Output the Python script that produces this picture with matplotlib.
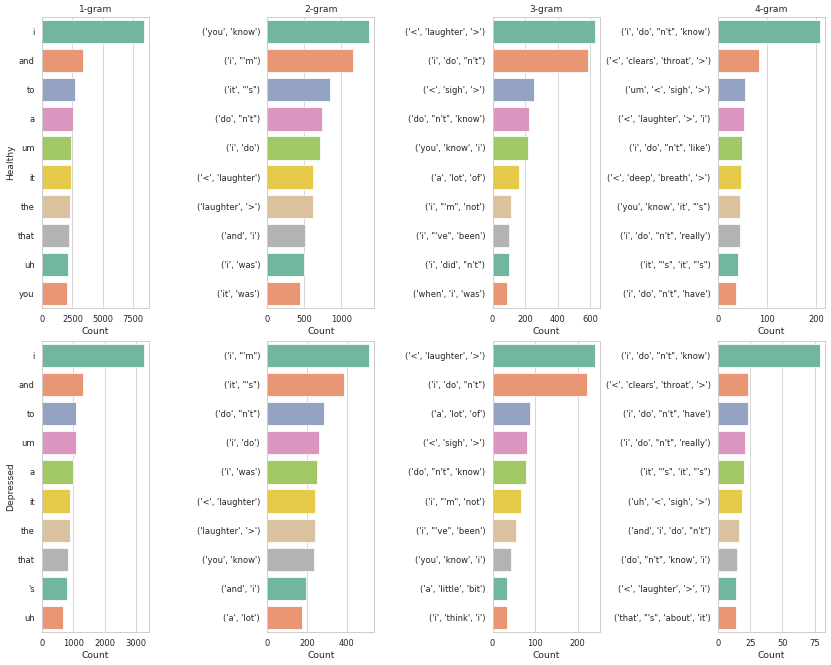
import numpy as np
import matplotlib
matplotlib.use("Agg")
import matplotlib.pyplot as plt
import seaborn as sns

sns.set_theme(style="whitegrid")

# 各 n-gram 前10 (Healthy / Depressed)
healthy_1 = ["i", "and", "to", "a", "um", "it", "the", "that", "uh", "you"]
healthy_1_cnt = [8380, 3405, 2690, 2525, 2390, 2380, 2305, 2225, 2170, 2060]
healthy_2 = [("you", "know"), ("i", "'m"), ("it", "'s"), ("do", "n't"), ("i", "do"),
             ("<", "laughter"), ("laughter", ">"), ("and", "i"), ("i", "was"), ("it", "was")]
healthy_2_cnt = [1380, 1158, 855, 742, 715, 624, 620, 516, 502, 443]
healthy_3 = [("<", "laughter", ">"), ("i", "do", "n't"), ("<", "sigh", ">"),
             ("do", "n't", "know"), ("you", "know", "i"), ("a", "lot", "of"),
             ("i", "'m", "not"), ("i", "'ve", "been"), ("i", "did", "n't"), ("when", "i", "was")]
healthy_3_cnt = [627, 584, 257, 226, 218, 162, 111, 101, 100, 88]
healthy_4 = [("i", "do", "n't", "know"), ("<", "clears", "throat", ">"), ("um", "<", "sigh", ">"),
             ("<", "laughter", ">", "i"), ("i", "do", "n't", "like"), ("<", "deep", "breath", ">"),
             ("you", "know", "it", "'s"), ("i", "do", "n't", "really"), ("it", "'s", "it", "'s"),
             ("i", "do", "n't", "have")]
healthy_4_cnt = [207, 83, 56, 54, 48, 46, 44, 44, 41, 37]

depressed_1 = ["i", "and", "to", "um", "a", "it", "the", "that", "'s", "uh"]
depressed_1_cnt = [3245, 1319, 1074, 1068, 979, 904, 894, 840, 787, 681]
depressed_2 = [("i", "'m"), ("it", "'s"), ("do", "n't"), ("i", "do"), ("i", "was"),
               ("<", "laughter"), ("laughter", ">"), ("you", "know"), ("and", "i"), ("a", "lot")]
depressed_2_cnt = [513, 387, 286, 262, 249, 239, 238, 234, 197, 173]
depressed_3 = [("<", "laughter", ">"), ("i", "do", "n't"), ("a", "lot", "of"), ("<", "sigh", ">"),
               ("do", "n't", "know"), ("i", "'m", "not"), ("i", "'ve", "been"),
               ("you", "know", "i"), ("a", "little", "bit"), ("i", "think", "i")]
depressed_3_cnt = [240, 223, 87, 80, 79, 68, 55, 43, 33, 33]
depressed_4 = [("i", "do", "n't", "know"), ("<", "clears", "throat", ">"), ("i", "do", "n't", "have"),
               ("i", "do", "n't", "really"), ("it", "'s", "it", "'s"), ("uh", "<", "sigh", ">"),
               ("and", "i", "do", "n't"), ("do", "n't", "know", "i"), ("<", "laughter", ">", "i"),
               ("that", "'s", "about", "it")]
depressed_4_cnt = [79, 23, 23, 21, 20, 19, 16, 15, 14, 14]

titles = ["1-gram", "2-gram", "3-gram", "4-gram"]
row_names = ["Healthy", "Depressed"]
rows = [
    [(healthy_1, healthy_1_cnt), (healthy_2, healthy_2_cnt),
     (healthy_3, healthy_3_cnt), (healthy_4, healthy_4_cnt)],
    [(depressed_1, depressed_1_cnt), (depressed_2, depressed_2_cnt),
     (depressed_3, depressed_3_cnt), (depressed_4, depressed_4_cnt)],
]
xticks = [
    [[0, 2500, 5000, 7500], [0, 500, 1000], [0, 200, 400, 600], [0, 100, 200]],
    [[0, 1000, 2000, 3000], [0, 200, 400], [0, 100, 200], [0, 25, 50, 75]],
]

fig, axes = plt.subplots(2, 4, figsize=(831 / 55, 665 / 55), dpi=55)
for r in range(2):
    for c in range(4):
        ax = axes[r, c]
        grams, cnt = rows[r][c]
        labels = [g if isinstance(g, str) else str(g) for g in grams]
        sns.barplot(x=cnt, y=labels, hue=labels, palette="Set2", legend=False,
                    orient="h", ax=ax)
        ax.set_xticks(xticks[r][c])
        ax.set_xlabel("Count")
        if r == 0:
            ax.set_title(titles[c])
        if c == 0:
            ax.set_ylabel(row_names[r])
        else:
            ax.set_ylabel("")

plt.subplots_adjust(left=0.0505, right=0.9928, top=0.9744, bottom=0.0496,
                    wspace=1.103, hspace=0.113)
plt.savefig("out.png", dpi=55)
